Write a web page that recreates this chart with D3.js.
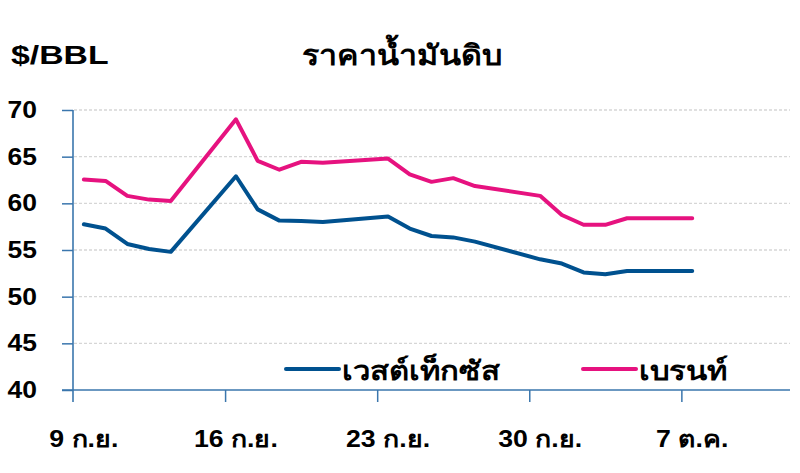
<!DOCTYPE html>
<html>
<head>
<meta charset="utf-8">
<script src="https://cdn.jsdelivr.net/npm/d3@7"></script>
<style>
  html, body { margin: 0; padding: 0; background: #fff; }
  svg text { font-family: "Liberation Sans", Arial, "DejaVu Sans", sans-serif; font-weight: bold; fill: #000; }
</style>
</head>
<body>
<svg id="chart" width="800" height="473"></svg>
<script>
// ---- data ----
const dates = ["2019-09-09","2019-09-10","2019-09-11","2019-09-12","2019-09-13",
               "2019-09-16","2019-09-17","2019-09-18","2019-09-19","2019-09-20",
               "2019-09-23","2019-09-24","2019-09-25","2019-09-26","2019-09-27",
               "2019-09-30","2019-10-01","2019-10-02","2019-10-03","2019-10-04",
               "2019-10-07"];
const wti   = [57.75,57.3,55.65,55.1,54.8, 62.9,59.35,58.15,58.1,58.0, 58.6,57.3,56.5,56.35,55.9, 54.0,53.55,52.6,52.4,52.75, 52.75];
const brent = [62.55,62.4,60.8,60.4,60.25, 69.0,64.55,63.6,64.45,64.35, 64.8,63.1,62.3,62.7,61.85, 60.8,58.75,57.7,57.7,58.4, 58.4];
const seriesNames = ["เวสต์เท็กซัส", "เบรนท์"];
const yTicks = [40,45,50,55,60,65,70];
const xTickDates = ["2019-09-09","2019-09-16","2019-09-23","2019-09-30","2019-10-07"];
const xTickLabels = ["9 ก.ย.","16 ก.ย.","23 ก.ย.","30 ก.ย.","7 ต.ค."];
const titleText = "ราคาน้ำมันดิบ";
const unitText = "$/BBL";

// ---- chart ----
const svg = d3.select("#chart");
const axisColor = "#3a76ad";
const blue = "#00518f", pink = "#e6127f";
const parse = d3.utcParse("%Y-%m-%d");
const HALF = 12*3600*1000;

const x = d3.scaleUtc().domain([parse("2019-09-09"), parse("2019-10-12")]).range([73, 790]);
const y = d3.scaleLinear().domain([40, 70]).range([390, 110]);

function stretchedText(g, tx, ty, str, size, anchor, sx) {
  return g.append("text")
    .attr("transform", `translate(${tx},${ty}) scale(${sx},1)`)
    .attr("text-anchor", anchor || "start")
    .style("font-size", size + "px")
    .text(str);
}

// gridlines
svg.append("g").selectAll("line").data(yTicks.filter(v => v > 40)).join("line")
  .attr("x1", 74).attr("x2", 790)
  .attr("y1", d => y(d)).attr("y2", d => y(d))
  .attr("stroke", "#d6d6d6").attr("stroke-width", 1.3)
  .attr("stroke-dasharray", "3,2");

// y axis
const yAxis = d3.axisLeft(y).tickValues(yTicks).tickSize(11).tickFormat("");
const gy = svg.append("g").attr("transform", "translate(73,0)").call(yAxis);
gy.select(".domain").remove();
gy.selectAll(".tick line").attr("stroke", axisColor).attr("stroke-width", 1.5);
svg.append("line").attr("x1", 73).attr("x2", 73).attr("y1", y(70)).attr("y2", 402)
  .attr("stroke", axisColor).attr("stroke-width", 1.6);
yTicks.forEach(v => stretchedText(svg, 37, y(v) + 8, String(v), 23, "end", 1.15));

// x axis
const gx = svg.append("g").attr("transform", "translate(0,390)")
  .call(d3.axisBottom(x).tickValues(xTickDates.map(parse).slice(1)).tickSize(12).tickFormat(""));
gx.select(".domain").remove();
gx.selectAll(".tick line").attr("stroke", axisColor).attr("stroke-width", 1.5);
svg.append("line").attr("x1", 62).attr("x2", 790).attr("y1", 390).attr("y2", 390)
  .attr("stroke", axisColor).attr("stroke-width", 1.6);
xTickDates.forEach((d, i) => {
  stretchedText(svg, x(new Date(+parse(d) + HALF)), 447, xTickLabels[i], 23, "middle", 1.16);
});

// lines
const line = d3.line().x(d => x(new Date(+d.date + HALF))).y(d => y(d.v));
const mk = arr => dates.map((d, i) => ({date: parse(d), v: arr[i]}));
svg.append("path").datum(mk(brent)).attr("d", line)
  .attr("fill", "none").attr("stroke", pink).attr("stroke-width", 4)
  .attr("stroke-linejoin", "round").attr("stroke-linecap", "round");
svg.append("path").datum(mk(wti)).attr("d", line)
  .attr("fill", "none").attr("stroke", blue).attr("stroke-width", 4)
  .attr("stroke-linejoin", "round").attr("stroke-linecap", "round");

// legend
const legend = [{name: seriesNames[0], color: blue, x: 286}, {name: seriesNames[1], color: pink, x: 583}];
legend.forEach(l => {
  svg.append("line").attr("x1", l.x).attr("x2", l.x + 53).attr("y1", 369).attr("y2", 369)
    .attr("stroke", l.color).attr("stroke-width", 4).attr("stroke-linecap", "round");
  stretchedText(svg, l.x + 56, 380, l.name, 27, "start", 1.15);
});

// titles
stretchedText(svg, 11, 64, unitText, 26, "start", 1.3);
stretchedText(svg, 302, 65, titleText, 28, "start", 1.15);
</script>
</body>
</html>
